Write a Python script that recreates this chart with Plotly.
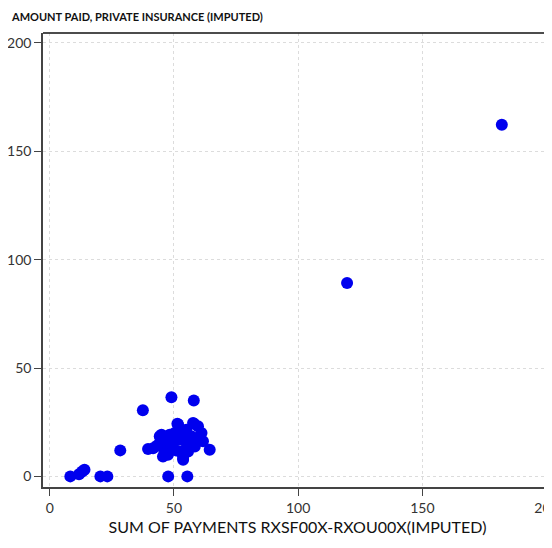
import plotly.graph_objects as go

# Sum of payments (x) and amount paid by private insurance (y)
sum_payments = [
    8.3, 11.8, 13.1, 14.0, 20.4, 23.2, 47.7, 55.4,
    28.4, 37.5, 49.0, 58.0, 64.4,
    39.6, 41.6, 44.3, 45.6, 46.3, 48.3, 49.7, 51.7, 50.3, 53.7, 53.7, 55.0,
    57.7, 59.7, 61.1, 61.7, 57.0, 58.4, 52.4, 47.6, 55.7, 49.7, 52.4, 55.0,
    44.3, 48.3, 51.4, 58.1, 45.6, 53.7, 45.0, 60.0, 56.5, 50.8, 43.0,
    119.7, 182.0,
]
private_paid = [
    0.0, 1.0, 2.3, 3.1, 0.0, 0.0, 0.0, 0.0,
    12.0, 30.5, 36.5, 35.0, 12.3,
    12.6, 13.0, 18.5, 16.2, 11.5, 14.6, 13.1, 23.9, 20.0, 20.0, 8.5, 15.4,
    24.6, 23.1, 20.0, 16.2, 18.5, 13.8, 11.5, 10.0, 11.5, 16.2, 17.0, 21.5,
    15.4, 19.2, 24.3, 24.3, 9.2, 7.7, 19.2, 18.0, 16.0, 12.0, 14.0,
    89.2, 162.3,
]
tick_vals = [0, 50, 100, 150, 200]
tick_text = ["0", "50", "100", "150", "200"]

FONT = "Liberation Sans Narrow, Arial Narrow, Lato, sans-serif"

fig = go.Figure()
fig.add_trace(go.Scatter(
    x=sum_payments, y=private_paid, mode="markers",
    marker=dict(color="#0000EE", size=12, line=dict(width=0)),
    showlegend=False, cliponaxis=False,
))

axis_common = dict(
    tickvals=tick_vals, ticktext=tick_text,
    showgrid=True, gridcolor="#dcdcdc", griddash="dot", gridwidth=1,
    zeroline=False, showline=True, linecolor="#444444", linewidth=1.5,
    ticks="outside", ticklen=7, tickcolor="#444444", tickwidth=1,
    tickfont=dict(family=FONT, size=14, color="#333333"),
    ticklabeloverflow="allow", automargin=False,
)

# the page body adds an 8px offset, so the figure is 8px smaller than the window
fig.update_layout(
    width=544, height=540,
    margin=dict(l=35, r=0, t=25, b=61),
    paper_bgcolor="white", plot_bgcolor="white",
    xaxis=dict(range=[-2.7, 202.2], title=dict(
        text="SUM OF PAYMENTS RXSF00X-RXOU00X(IMPUTED)",
        font=dict(family=FONT, size=16, color="#111111"), standoff=7),
        **axis_common),
    yaxis=dict(range=[-4.9, 204.6], **axis_common),
    annotations=[dict(
        text="<b>AMOUNT PAID, PRIVATE INSURANCE (IMPUTED)</b>",
        xref="paper", yref="paper", x=-34/509, y=1,
        xanchor="left", yanchor="bottom", yshift=8,
        showarrow=False,
        font=dict(family=FONT, size=11, color="#111111"),
    )],
    shapes=[dict(type="line", xref="paper", yref="paper", x0=0, x1=1, y0=1, y1=1,
                 line=dict(color="#111111", width=1.5))],
)

fig.write_html("out.html")
